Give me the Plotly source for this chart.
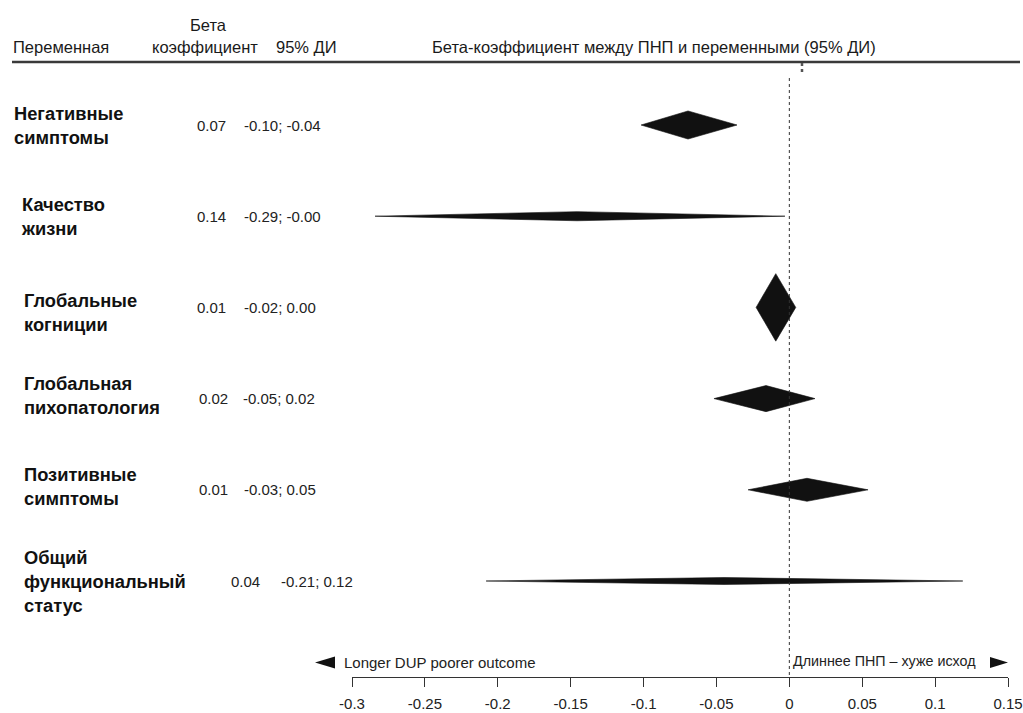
import plotly.graph_objects as go

W, H = 1023, 713

# ---------------- data ----------------
variables = ["Негативные\nсимптомы", "Качество\nжизни", "Глобальные\nкогниции",
             "Глобальная\nпихопатология", "Позитивные\nсимптомы",
             "Общий\nфункциональный\nстатус"]
beta_labels = ["0.07", "0.14", "0.01", "0.02", "0.01", "0.04"]
ci_labels = ["-0.10; -0.04", "-0.29; -0.00", "-0.02; 0.00", "-0.05; 0.02",
             "-0.03; 0.05", "-0.21; 0.12"]
estimates = [-0.0695, -0.1456, -0.0093, -0.0160, 0.0121, -0.0448]
ci_low = [-0.1017, -0.2842, -0.0228, -0.0517, -0.0283, -0.2080]
ci_high = [-0.0359, -0.0030, 0.0044, 0.0176, 0.0540, 0.1190]
tick_values = [-0.3, -0.25, -0.2, -0.15, -0.1, -0.05, 0, 0.05, 0.1, 0.15]
tick_labels = ["-0.3", "-0.25", "-0.2", "-0.15", "-0.1", "-0.05", "0", "0.05", "0.1", "0.15"]

# ---------------- styles / layout ----------------
diamond_half = [0.154, 0.05, 0.37, 0.143, 0.126, 0.038]   # half height in row units
label_x_px = [13, 20, 23, 23, 23, 23]
label_dy_px = [0, 0, 5, -3, -3, 0]
beta_x_px = [196, 196, 196, 198, 198, 230]
ci_x_px = [243, 243, 243, 242, 243, 280]
ROW0, ROW_STEP = 125, 91.2

HEAD = "Liberation Sans, Arial, sans-serif"
ARIAL = "Liberation Sans, Arial, sans-serif"


def px(x):
    return x / W


def py(y):
    return 1 - y / H


fig = go.Figure()

for i in range(len(variables)):
    h = diamond_half[i]
    fig.add_trace(go.Scatter(
        x=[ci_low[i], estimates[i], ci_high[i], estimates[i], ci_low[i]],
        y=[i, i - h, i, i + h, i],
        mode="lines", fill="toself", fillcolor="#111111",
        line=dict(width=0.6, color="#111111"),
        hoverinfo="skip", showlegend=False))

annotations = []
hfont = dict(family=HEAD, size=16.5, color="#1a1a1a")
annotations.append(dict(text="Переменная", x=px(12), y=py(47), xanchor="left", yanchor="middle", font=hfont))
annotations.append(dict(text="Бета", x=px(208), y=py(25), xanchor="center", yanchor="middle", font=hfont))
annotations.append(dict(text="коэффициент", x=px(205), y=py(47), xanchor="center", yanchor="middle", font=hfont))
annotations.append(dict(text="95% ДИ", x=px(306), y=py(47), xanchor="center", yanchor="middle", font=hfont))
annotations.append(dict(text="Бета-коэффициент между ПНП и переменными (95% ДИ)", x=px(654), y=py(47),
                        xanchor="center", yanchor="middle", font=hfont))

for i in range(len(variables)):
    annotations.append(dict(text="<b>" + variables[i].replace("\n", "<br>") + "</b>",
                            x=px(label_x_px[i]), xref="paper", y=i, yref="y",
                            yshift=-label_dy_px[i], xanchor="left", yanchor="middle", align="left",
                            font=dict(family=ARIAL, size=18.3, color="#111111")))
    annotations.append(dict(text=beta_labels[i], x=px(beta_x_px[i]), xref="paper", y=i, yref="y",
                            xanchor="left", yanchor="middle",
                            font=dict(family=ARIAL, size=15, color="#222222")))
    annotations.append(dict(text=ci_labels[i], x=px(ci_x_px[i]), xref="paper", y=i, yref="y",
                            xanchor="left", yanchor="middle",
                            font=dict(family=ARIAL, size=15, color="#222222")))

annotations.append(dict(text="Longer DUP poorer outcome", x=px(343), y=py(662), xanchor="left",
                        yanchor="middle", font=dict(family=ARIAL, size=15, color="#222222")))
annotations.append(dict(text="Длиннее ПНП – хуже исход", x=px(977), y=py(661), xanchor="right",
                        yanchor="middle", font=dict(family=HEAD, size=14.3, color="#222222")))

for a in annotations:
    a.setdefault("xref", "paper")
    a.setdefault("yref", "paper")
    a["showarrow"] = False
    a["borderpad"] = 0

shapes = [
    dict(type="line", xref="paper", yref="paper", x0=px(12), x1=px(1020), y0=py(62), y1=py(62),
         line=dict(color="#3a3a3a", width=2.5)),
    dict(type="line", xref="x", yref="paper", x0=0, x1=0, y0=py(78), y1=py(677),
         line=dict(color="#333333", width=1, dash="dot")),
    dict(type="line", xref="paper", yref="paper", x0=px(802), x1=px(802), y0=py(63), y1=py(75),
         line=dict(color="#555555", width=2.5, dash="dot")),
    dict(type="path", xref="paper", yref="paper", fillcolor="#111111", line=dict(width=0),
         path=f"M {px(315)},{py(662.5)} L {px(335)},{py(656.5)} L {px(335)},{py(668.5)} Z"),
    dict(type="path", xref="paper", yref="paper", fillcolor="#111111", line=dict(width=0),
         path=f"M {px(1008)},{py(662.5)} L {px(990)},{py(657)} L {px(990)},{py(668)} Z"),
]

fig.update_layout(
    template="none",
    autosize=False,
    width=W, height=H, margin=dict(l=0, r=0, t=0, b=0, pad=0, autoexpand=False),
    paper_bgcolor="white", plot_bgcolor="white",
    showlegend=False,
    xaxis=dict(range=[-0.3, 0.15], domain=[352 / W, 1008 / W], anchor="free", position=py(677),
               tickvals=tick_values, ticktext=tick_labels, ticks="outside", ticklen=9,
               tickcolor="#333333", tickwidth=1, showline=True, linecolor="#333333", linewidth=1,
               showgrid=False, zeroline=False, ticklabelstandoff=4, automargin=False,
               ticklabeloverflow="allow",
               tickfont=dict(family=ARIAL, size=15, color="#222222"), fixedrange=True),
    yaxis=dict(range=[(H - ROW0) / ROW_STEP, -ROW0 / ROW_STEP], domain=[0, 1], visible=False,
               showgrid=False, zeroline=False, fixedrange=True, automargin=False),
    annotations=annotations, shapes=shapes,
)

fig.write_html("out.html", config={"responsive": False, "displayModeBar": False})
